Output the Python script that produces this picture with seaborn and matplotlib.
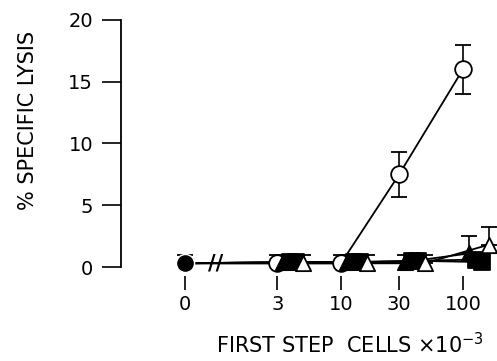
import numpy as np
import pandas as pd
import matplotlib
matplotlib.use("Agg")
import matplotlib.pyplot as plt
import seaborn as sns

# doses (first step cells x10^-3); "0" is drawn left of the axis break
doses = [3, 10, 30, 100]
zero_pos = 0.526
tick_labels = ["0", "3", "10", "30", "100"]

# control (no first step cells)
ctrl_y = 0.3
ctrl_err = 0.7

# % specific lysis per series
open_circle = [0.3, 0.3, 7.5, 16.0]
open_circle_err = [0.7, 0.7, 1.8, 2.0]
filled_tri = [0.4, 0.4, 0.4, 1.1]
filled_tri_err = [0.6, 0.6, 0.6, 1.4]
filled_sq1 = [0.4, 0.4, 0.5, 0.6]
filled_sq1_err = [0.6, 0.6, 0.5, 0.5]
filled_sq2 = [0.4, 0.4, 0.5, 0.4]
filled_sq2_err = [0.6, 0.6, 0.5, 0.5]
open_tri = [0.3, 0.3, 0.3, 1.8]
open_tri_err = [0.7, 0.7, 0.7, 1.4]

series = [
    ("open circle", open_circle, open_circle_err, "o", "white", 1.0, 12, True),
    ("filled triangle", filled_tri, filled_tri_err, "^", "black", 1.12, 11, False),
    ("filled square 1", filled_sq1, filled_sq1_err, "s", "black", 1.27, 11, False),
    ("filled square 2", filled_sq2, filled_sq2_err, "s", "black", 1.42, 11, False),
    ("open triangle", open_tri, open_tri_err, "^", "white", 1.62, 11, False),
]

sns.set_style("ticks")
plt.rcParams["font.family"] = ["DejaVu Sans"]
plt.rcParams["text.color"] = "black"

fig = plt.figure(figsize=(4.97, 3.61), dpi=100)
ax = fig.add_axes([0.2435, 0.209, 0.742, 0.753])

rows = []
for name, ys, errs, mk, fc, off, ms, both in series:
    xs = [zero_pos] + [d * off for d in doses]
    yv = [ctrl_y] + list(ys)
    rows += [{"series": name, "x": x, "y": y} for x, y in zip(xs, yv)]
df = pd.DataFrame(rows)

# connecting lines
sns.lineplot(data=df, x="x", y="y", units="series", estimator=None,
             color="black", lw=1.3, ax=ax, zorder=2, legend=False)

# error bars and markers
for name, ys, errs, mk, fc, off, ms, both in series:
    xs = np.array(doses) * off
    lower = np.array(errs) if both else np.zeros(len(errs))
    if both:
        lower[:2] = 0
    eb = ax.errorbar(xs, ys, yerr=[lower, errs], fmt="none", ecolor="black",
                     elinewidth=1.2, capsize=6, capthick=1.3, zorder=3)
    for art in eb.lines[1] + eb.lines[2]:
        art.set_clip_on(False)
    sns.scatterplot(x=xs, y=ys, marker=mk, s=ms ** 2, facecolor=fc,
                    edgecolor="black", linewidth=1.3, ax=ax, zorder=4,
                    clip_on=False)

# control point at 0
ax.errorbar([zero_pos], [ctrl_y], yerr=[[0], [ctrl_err]], fmt="none",
            ecolor="black", elinewidth=1.2, capsize=6, capthick=1.3, zorder=3)
sns.scatterplot(x=[zero_pos], y=[ctrl_y], marker="o", s=170, color="black",
                ax=ax, zorder=5)

# axis break
ax.text(0.93, ctrl_y, "//", fontsize=15, fontweight="bold", ha="center",
        va="center", zorder=6)

ax.set_xscale("log")
ax.set_xlim(0.157, 166)
ax.set_ylim(-1.5, 20.5)
ax.set_xticks([zero_pos] + doses)
ax.set_xticklabels(tick_labels)
ax.xaxis.set_minor_locator(matplotlib.ticker.NullLocator())
ax.set_yticks([0, 5, 10, 15, 20])

ax.spines["top"].set_visible(False)
ax.spines["right"].set_visible(False)
ax.spines["left"].set_bounds(0, 20)
ax.spines["left"].set_linewidth(1.3)
ax.spines["left"].set_color("black")
ax.spines["bottom"].set_position(("data", -0.7))
ax.spines["bottom"].set_visible(False)

ax.tick_params(axis="y", direction="out", length=14, width=1.2, pad=6,
               labelsize=14, colors="black")
ax.tick_params(axis="x", direction="out", length=10, width=1.2, pad=4,
               labelsize=14, colors="black")
ax.set_xlabel("")
ax.set_ylabel("")

fig.text(28 / 497, 1 - 120 / 361, "% SPECIFIC LYSIS", rotation=90,
         ha="center", va="center", fontsize=15)
fig.text(350 / 497, 1 - 345 / 361, "FIRST STEP  CELLS \u00d710$^{-3}$",
         ha="center", va="center", fontsize=15)

fig.savefig("out.png", dpi=100)
